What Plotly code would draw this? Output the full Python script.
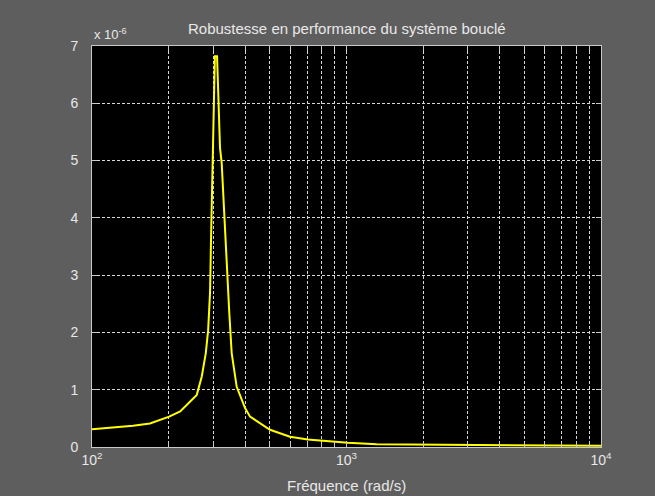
import plotly.graph_objects as go

# Frequency (rad/s) and closed-loop performance robustness magnitude
frequency = [100, 145, 169, 201, 222, 258, 270, 280, 286, 291, 293.5, 296, 299.7,
             304, 310, 313.6, 318.4, 323.3, 328.1, 335.2, 340.1, 346.3, 353.9, 370.3,
             399.4, 417.8, 500.6, 599.8, 703.8, 887.6, 1011, 1314, 2000, 4000, 6000, 10000]
magnitude = [0.31e-6, 0.37e-6, 0.41e-6, 0.53e-6, 0.62e-6, 0.91e-6, 1.23e-6, 1.64e-6,
             2.04e-6, 2.70e-6, 3.61e-6, 4.40e-6, 5.21e-6, 6.82e-6, 6.82e-6, 6.06e-6,
             5.22e-6, 4.96e-6, 4.37e-6, 3.56e-6, 2.97e-6, 2.34e-6, 1.64e-6, 1.05e-6,
             0.68e-6, 0.53e-6, 0.30e-6, 0.18e-6, 0.13e-6, 0.09e-6, 0.075e-6, 0.05e-6,
             0.045e-6, 0.035e-6, 0.028e-6, 0.02e-6]

x_tickvals = [100, 1000, 10000]
x_ticktext = ["10<sup>2</sup>", "10<sup>3</sup>", "10<sup>4</sup>"]
y_tickvals = [i * 1e-6 for i in range(8)]
y_ticktext = [str(i) for i in range(8)]

title_text = "Robustesse en performance du système bouclé"
xlabel_text = "Fréquence (rad/s)"
exponent_text = "x 10<sup>-6</sup>"

BG = "#5e5e5e"
FG = "#e8e8e8"
GRID = "#d8d8d8"
FONT = "Liberation Sans, Arial, sans-serif"

fig = go.Figure()
fig.add_trace(go.Scatter(x=frequency, y=magnitude, mode="lines",
                         line=dict(color="#ffff00", width=2), showlegend=False))

axis_common = dict(showline=True, linecolor="#c8c8c8", linewidth=1, mirror="ticks",
                   ticks="inside", ticklen=5, tickcolor="#c8c8c8",
                   showgrid=True, gridcolor=GRID, gridwidth=1, griddash="3px,2px",
                   zeroline=False, tickfont=dict(family=FONT, size=14, color=FG))

fig.update_layout(
    width=655, height=496,
    paper_bgcolor=BG, plot_bgcolor="#000000",
    margin=dict(l=92, r=54, t=46, b=49),
    font=dict(family=FONT, color=FG, size=13),
    xaxis=dict(type="log", range=[2, 4], tickmode="array", tickvals=x_tickvals,
               ticktext=x_ticktext,
               minor=dict(dtick="D1", showgrid=True, gridcolor=GRID, gridwidth=1,
                          griddash="3px,2px", ticks="inside", ticklen=5,
                          tickcolor="#c8c8c8"),
               **axis_common),
    yaxis=dict(range=[0, 7e-6], tickmode="array", tickvals=y_tickvals,
               ticktext=y_ticktext, ticklabelstandoff=10, **axis_common),
    annotations=[
        dict(text=title_text, xref="paper", yref="paper", x=0.5, y=1, yshift=18,
             xanchor="center", yanchor="middle", showarrow=False,
             font=dict(family=FONT, size=15, color=FG)),
        dict(text=xlabel_text, xref="paper", yref="paper", x=0.5, y=0, yshift=-38,
             xanchor="center", yanchor="middle", showarrow=False,
             font=dict(family=FONT, size=15, color=FG)),
        dict(text=exponent_text, xref="paper", yref="paper", x=0, y=1, yshift=12,
             xanchor="left", yanchor="middle", showarrow=False,
             font=dict(family=FONT, size=13, color=FG)),
    ],
)

fig.write_html("out.html", config={"displayModeBar": False},
               post_script="document.body.style.margin='0';")
